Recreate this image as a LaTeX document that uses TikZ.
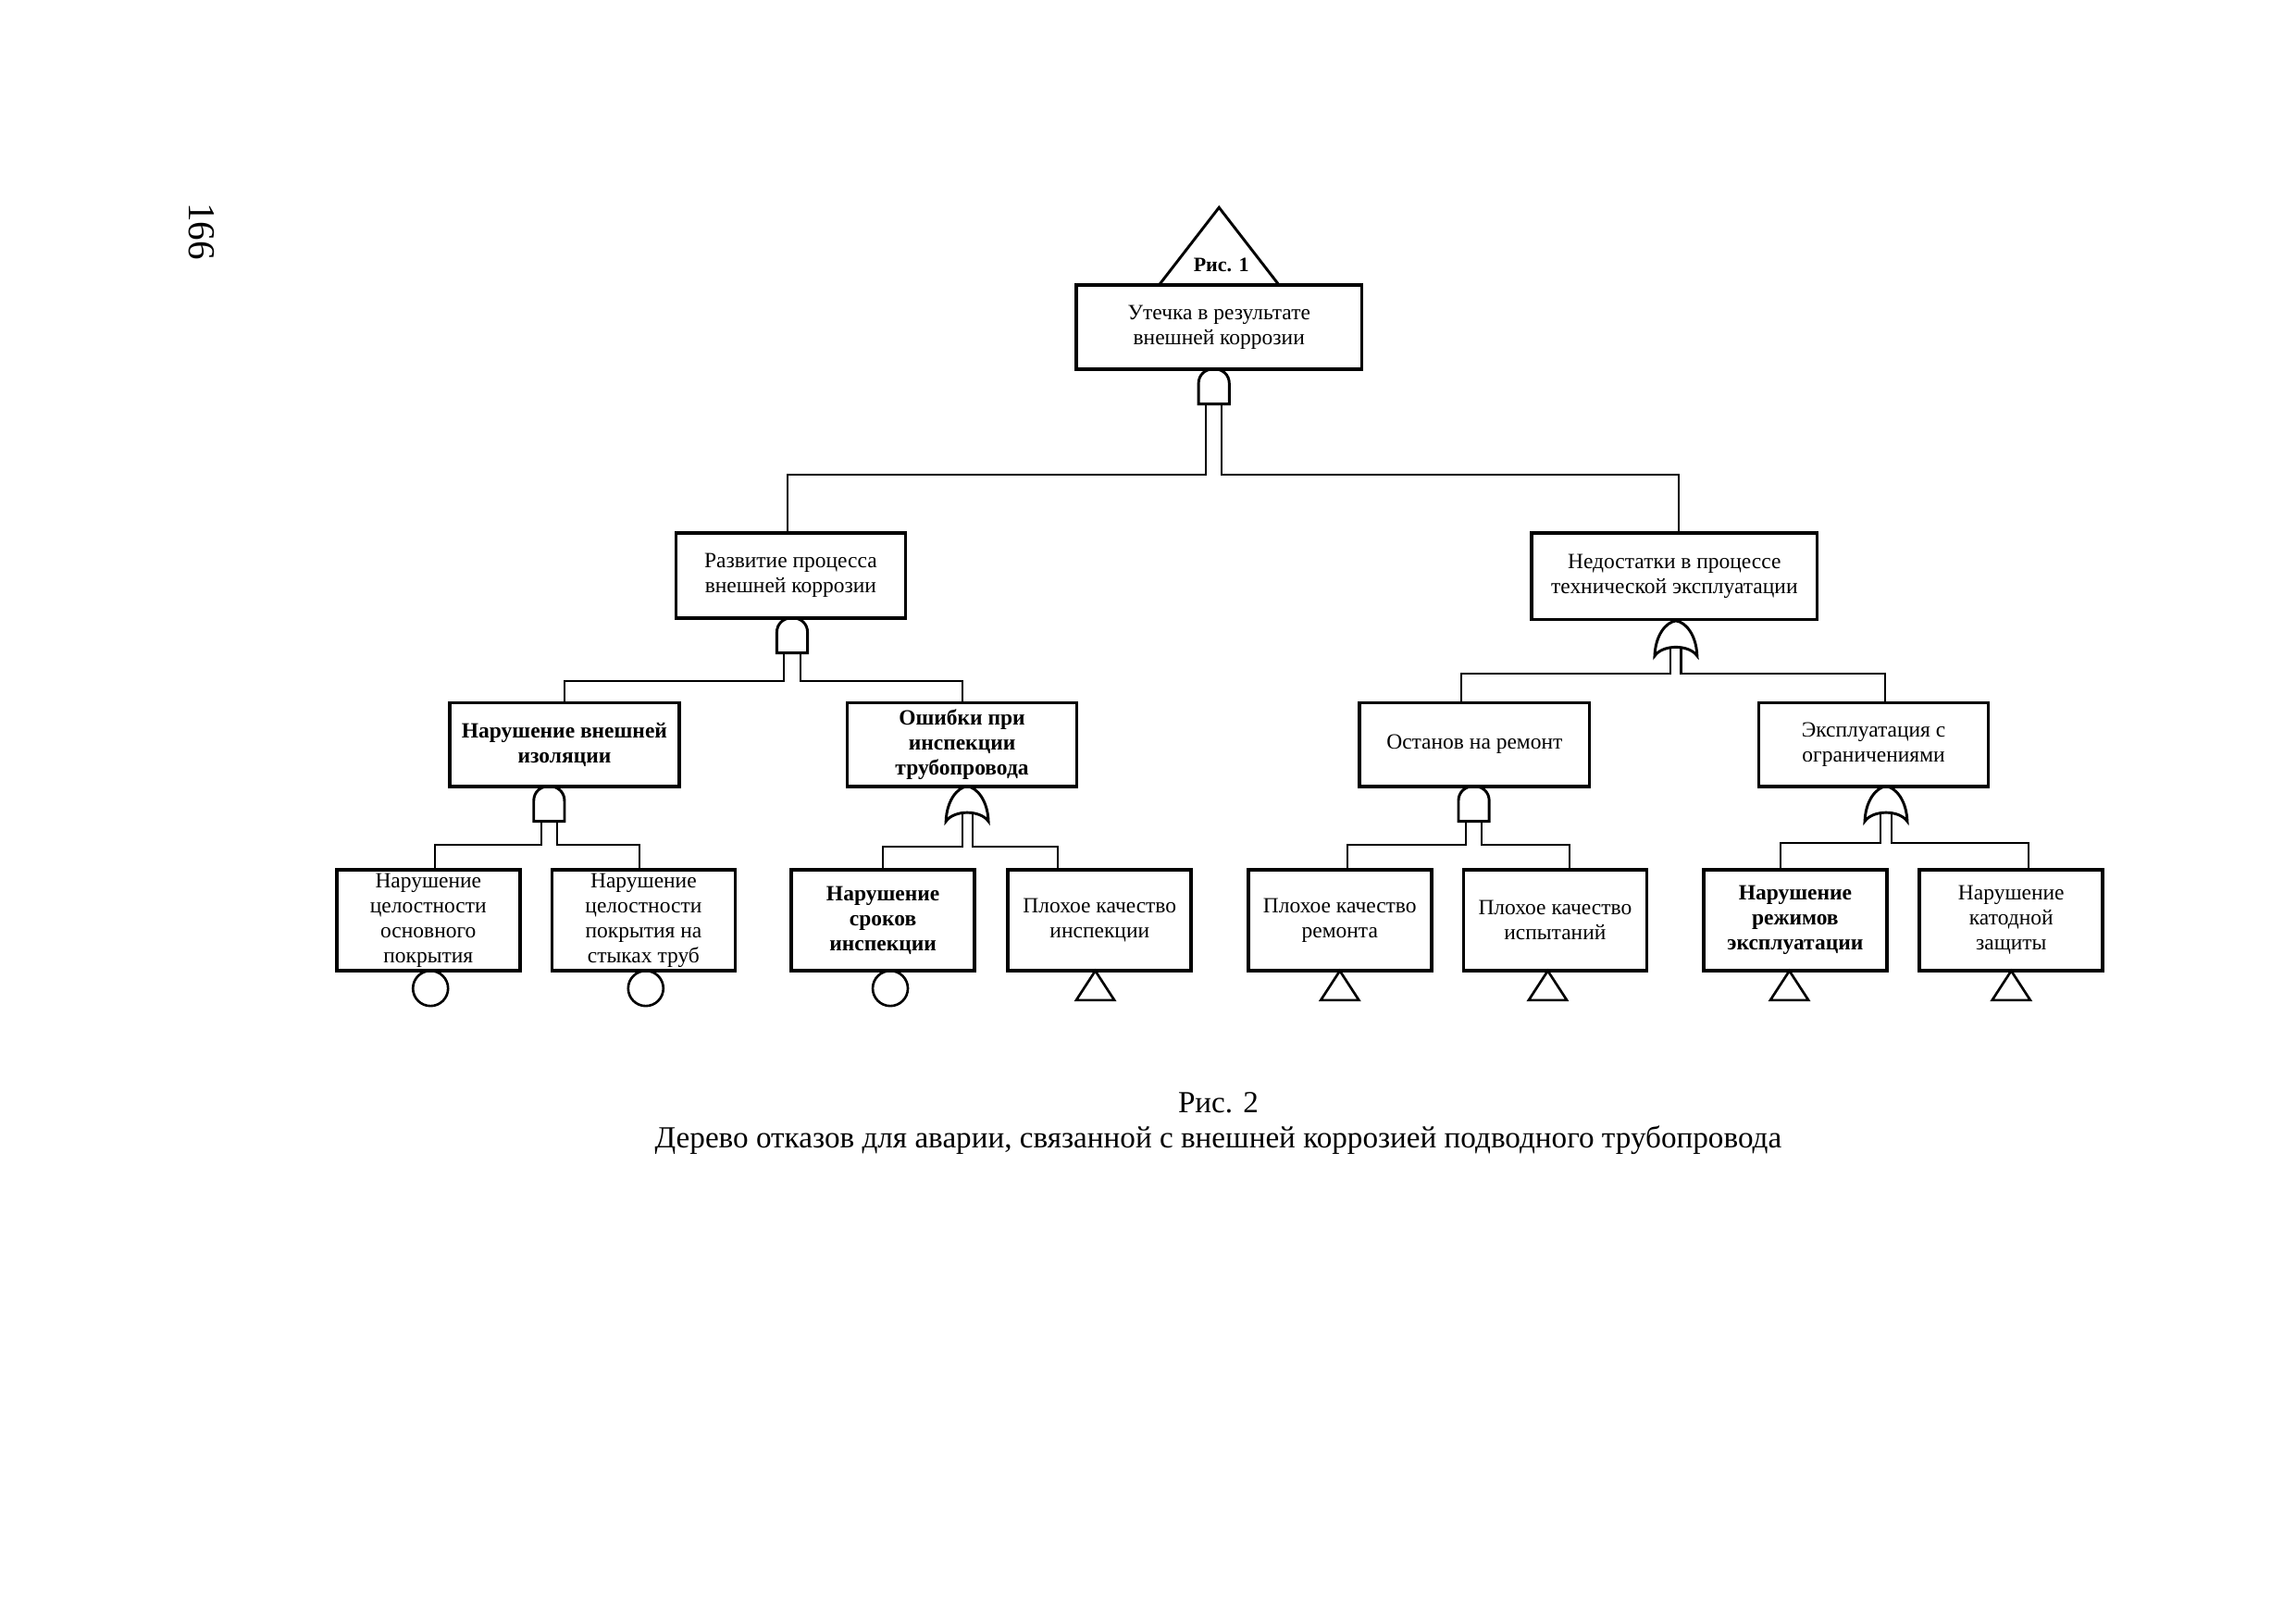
\documentclass[tikz,border=0pt]{standalone}
\usepackage{fontspec}
\setmainfont{Liberation Serif}
\usetikzlibrary{calc}

\begin{document}
\begin{tikzpicture}[x=0.18941mm,y=-0.18941mm,
    event/.style={draw,line width=1.25pt,inner sep=0pt,outer sep=0pt,align=center,font=\fontsize{8}{9.2}\selectfont},
    wide event/.style={event,minimum width=36.9mm,minimum height=10.9mm},
    mid event/.style={event,minimum width=29.7mm,minimum height=10.8mm},
    leaf event/.style={event,minimum width=23.7mm,minimum height=13.1mm},
    link/.style={line width=0.7pt},
    gate line/.style={line width=1pt},
    symbol/.style={line width=0.9pt},
    and gate/.pic={
        \draw[gate line] (-10.5,24) -- (-10.5,10) .. controls (-10.5,4) and (-6,0) .. (0,0)
            .. controls (6,0) and (10.5,4) .. (10.5,10) -- (10.5,24) -- cycle;
        \coordinate (-l) at (-5.5,24);
        \coordinate (-r) at (5.5,24);
    },
    or gate/.pic={
        \draw[gate line] (-14.5,24) .. controls (-14,10) and (-7,1) .. (0,0)
            .. controls (7,1) and (14,10) .. (14.5,24) .. controls (9,16) and (-9,16) .. cycle;
        \coordinate (-l) at (-3.5,18);
        \coordinate (-r) at (3.5,18);
    }]

    \useasboundingbox (0,0) rectangle (1568,1108);

    \node[rotate=-90,font=\fontsize{14}{16}\selectfont] (page) at (138,158) {166};

    % top event
    \node[wide event] (leak) at (832.5,223.5) {Утечка в результате\\внешней коррозии};
    \draw[gate line] (leak.north) ++(-41,0) -- ++(41,-53) -- ++(41,53);
    \node[font=\fontsize{7.5}{9}\selectfont\bfseries] (fig1) at (834,181) {Рис. 1};

    % second level
    \node[mid event,minimum height=11mm] (dev) at (540,393) {Развитие процесса\\внешней коррозии};
    \node[wide event,minimum height=11.2mm] (lack) at (1143.5,393.5) {Недостатки в процессе\\технической эксплуатации};

    % third level
    \node[mid event] (insul) at (385.5,508.5) {\bfseries Нарушение внешней\\\bfseries изоляции};
    \node[mid event] (insp) at (657,508.5) {\bfseries Ошибки при\\\bfseries инспекции\\\bfseries трубопровода};
    \node[mid event] (stop) at (1007,508.5) {Останов на ремонт};
    \node[mid event] (expl) at (1279.5,508.5) {Эксплуатация с\\ограничениями};

    % basic events
    \node[leaf event] (l1) at (292.5,628.5) {Нарушение\\целостности\\основного\\покрытия};
    \node[leaf event] (l2) at (439.5,628.5) {Нарушение\\целостности\\покрытия на\\стыках труб};
    \node[leaf event] (l3) at (603,628.5) {\bfseries Нарушение\\\bfseries сроков\\\bfseries инспекции};
    \node[leaf event] (l4) at (751,628.5) {Плохое качество\\инспекции};
    \node[leaf event] (l5) at (915,628.5) {Плохое качество\\ремонта};
    \node[leaf event] (l6) at (1062,628.5) {Плохое качество\\испытаний};
    \node[leaf event] (l7) at (1226,628.5) {\bfseries Нарушение\\\bfseries режимов\\\bfseries эксплуатации};
    \node[leaf event] (l8) at (1373.5,628.5) {Нарушение\\катодной\\защиты};

    % gates
    \pic (g0) at (829,252) {and gate};
    \pic (g1) at (541,422) {and gate};
    \pic (g2) at (1144.5,424) {or gate};
    \pic (g3) at (375,537) {and gate};
    \pic (g4) at (660.5,537) {or gate};
    \pic (g5) at (1006.5,537) {and gate};
    \pic (g6) at (1288,537) {or gate};

    % links
    \draw[link] (g0-l) -- ++(0,48) -| ($(dev.north)+(-2,0)$);
    \draw[link] (g0-r) -- ++(0,48) -| ($(lack.north)+(3,0)$);
    \draw[link] (g1-l) -- ++(0,19) -| (insul.north);
    \draw[link] (g1-r) -- ++(0,19) -| (insp.north);
    \draw[link] (g2-l) -- ++(0,18) -| ($(stop.north)+(-9,0)$);
    \draw[link] (g2-r) -- ++(0,18) -| ($(expl.north)+(8,0)$);
    \draw[link] (g3-l) -- ++(0,16) -| ($(l1.north)+(4.5,0)$);
    \draw[link] (g3-r) -- ++(0,16) -| ($(l2.north)+(-2.5,0)$);
    \draw[link] (g4-l) -- ++(0,23) -| (l3.north);
    \draw[link] (g4-r) -- ++(0,23) -| ($(l4.north)+(-28.5,0)$);
    \draw[link] (g5-l) -- ++(0,16) -| ($(l5.north)+(5,0)$);
    \draw[link] (g5-r) -- ++(0,16) -| ($(l6.north)+(10,0)$);
    \draw[link] (g6-l) -- ++(0,21) -| ($(l7.north)+(-10,0)$);
    \draw[link] (g6-r) -- ++(0,21) -| ($(l8.north)+(12,0)$);

    % event symbols
    \draw[symbol] ($(l1.south)+(1.5,12)$) circle[radius=12];
    \draw[symbol] ($(l2.south)+(1.5,12)$) circle[radius=12];
    \draw[symbol] ($(l3.south)+(5,12)$) circle[radius=12];
    \draw[symbol] ($(l4.south)+(-3,0)$) -- ++(-13,20) -- ++(26,0) -- cycle;
    \draw[symbol] (l5.south) -- ++(-13,20) -- ++(26,0) -- cycle;
    \draw[symbol] ($(l6.south)+(-5,0)$) -- ++(-13,20) -- ++(26,0) -- cycle;
    \draw[symbol] ($(l7.south)+(-4,0)$) -- ++(-13,20) -- ++(26,0) -- cycle;
    \draw[symbol] (l8.south) -- ++(-13,20) -- ++(26,0) -- cycle;

    % caption
    \node[font=\fontsize{11.3}{13}\selectfont] (cap) at (832,753) {Рис. 2};
    \node[font=\fontsize{11.3}{13}\selectfont] (title) at (832,779) {Дерево отказов для аварии, связанной с внешней коррозией подводного трубопровода};
\end{tikzpicture}
\end{document}
